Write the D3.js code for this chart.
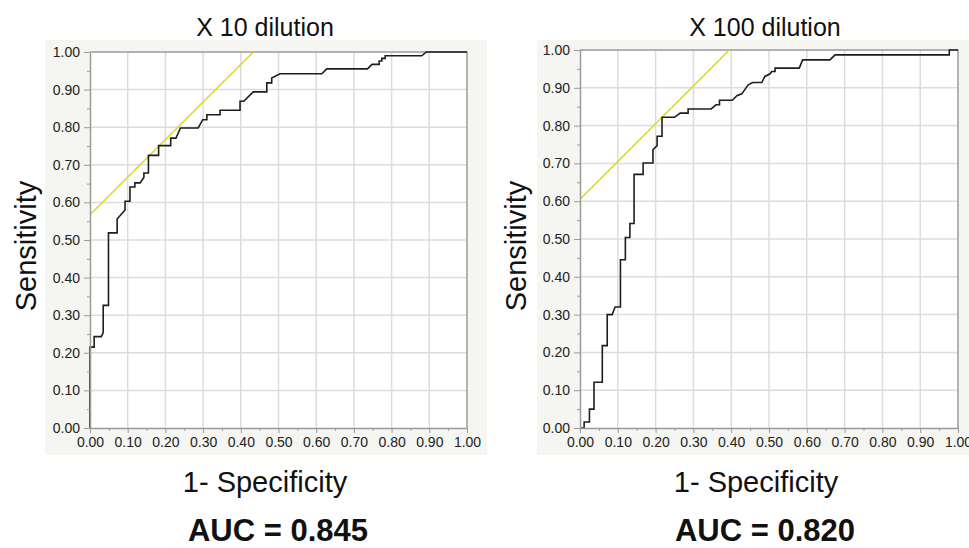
<!doctype html>
<html>
<head>
<meta charset="utf-8">
<script src="https://d3js.org/d3.v7.min.js"></script>
<style>
  body { margin: 0; background: #fff; }
  svg { font-family: "Liberation Sans", Arial, Helvetica, sans-serif; }
  .grid line { stroke: #dcdcdc; stroke-width: 1.5; }
  .axis path, .axis line { stroke: #9a9a9a; }
  .axis text { fill: #222; font-size: 14px; }
  .roc { fill: none; stroke: #1e1e1e; stroke-width: 1.6; }
  .tangent { fill: none; stroke: #ddd22a; stroke-width: 1.4; }
</style>
</head>
<body>
<svg id="chart" width="969" height="548"></svg>
<script>
// tick labels
var tickValues = [0, 0.1, 0.2, 0.3, 0.4, 0.5, 0.6, 0.7, 0.8, 0.9, 1.0];
var minorValues = [0.05, 0.15, 0.25, 0.35, 0.45, 0.55, 0.65, 0.75, 0.85, 0.95];

var titles = ["X 10 dilution", "X 100 dilution"];
var aucLabels = ["AUC = 0.845", "AUC = 0.820"];

// X 10 dilution ROC (1-specificity, sensitivity)
var fpr10 = [0, 0, 0.011, 0.011, 0.030, 0.035, 0.035, 0.049, 0.049, 0.072, 0.072, 0.093, 0.093, 0.106, 0.106,
  0.119, 0.119, 0.133, 0.143, 0.143, 0.155, 0.155, 0.182, 0.182, 0.214, 0.214, 0.228, 0.240, 0.287, 0.299,
  0.310, 0.310, 0.345, 0.345, 0.398, 0.398, 0.408, 0.433, 0.469, 0.469, 0.482, 0.482, 0.504, 0.615, 0.628,
  0.736, 0.748, 0.767, 0.767, 0.774, 0.774, 0.783, 0.783, 0.880, 0.892, 1.0];
var tpr10 = [0, 0.215, 0.215, 0.243, 0.243, 0.254, 0.326, 0.326, 0.519, 0.519, 0.556, 0.580, 0.603, 0.603, 0.641,
  0.641, 0.652, 0.652, 0.667, 0.678, 0.678, 0.725, 0.725, 0.751, 0.751, 0.771, 0.771, 0.798, 0.798, 0.820,
  0.820, 0.833, 0.833, 0.845, 0.845, 0.869, 0.869, 0.894, 0.894, 0.918, 0.918, 0.931, 0.942, 0.942, 0.955,
  0.955, 0.967, 0.967, 0.976, 0.976, 0.983, 0.983, 0.990, 0.990, 1.0, 1.0];

// X 100 dilution ROC
var fpr100 = [0, 0.011, 0.011, 0.025, 0.025, 0.037, 0.037, 0.059, 0.059, 0.072, 0.072, 0.085, 0.093, 0.107, 0.107,
  0.120, 0.120, 0.132, 0.132, 0.143, 0.143, 0.167, 0.167, 0.193, 0.193, 0.204, 0.204, 0.217, 0.217, 0.250,
  0.265, 0.286, 0.286, 0.347, 0.360, 0.369, 0.369, 0.403, 0.415, 0.428, 0.445, 0.457, 0.481, 0.489, 0.503,
  0.507, 0.516, 0.516, 0.580, 0.589, 0.661, 0.675, 0.977, 0.977, 1.0];
var tpr100 = [0, 0, 0.016, 0.016, 0.050, 0.050, 0.121, 0.121, 0.218, 0.218, 0.300, 0.300, 0.320, 0.320, 0.445,
  0.445, 0.504, 0.504, 0.541, 0.541, 0.671, 0.671, 0.701, 0.701, 0.736, 0.747, 0.772, 0.772, 0.822, 0.822,
  0.833, 0.833, 0.844, 0.844, 0.855, 0.855, 0.867, 0.867, 0.879, 0.884, 0.908, 0.914, 0.914, 0.930, 0.937,
  0.943, 0.943, 0.952, 0.952, 0.974, 0.974, 0.987, 0.987, 1.0, 1.0];

// yellow tangent lines
var tangentFpr10 = [0, 0.433], tangentTpr10 = [0.567, 1.0];
var tangentFpr100 = [0, 0.395], tangentTpr100 = [0.605, 1.0];

var svg = d3.select("#chart");

var panels = [
  {bg: [45, 40, 442, 415], x: [90, 467], y: [428, 52], title: 265, xlab: 265, auc: 278, ylab: 36,
   fpr: fpr10, tpr: tpr10, tf: tangentFpr10, tt: tangentTpr10, i: 0},
  {bg: [537, 40, 432, 415], x: [580, 958], y: [428, 50], title: 765, xlab: 756, auc: 765, ylab: 526,
   fpr: fpr100, tpr: tpr100, tf: tangentFpr100, tt: tangentTpr100, i: 1}
];

panels.forEach(function(p) {
  var g = svg.append("g");
  var x = d3.scaleLinear().domain([0, 1]).range(p.x);
  var y = d3.scaleLinear().domain([0, 1]).range(p.y);

  g.append("rect").attr("x", p.bg[0]).attr("y", p.bg[1]).attr("width", p.bg[2]).attr("height", p.bg[3])
    .attr("fill", "#f5f5f1");
  g.append("rect").attr("x", p.x[0]).attr("y", p.y[1]).attr("width", p.x[1] - p.x[0]).attr("height", p.y[0] - p.y[1])
    .attr("fill", "#fff");

  var grid = g.append("g").attr("class", "grid");
  grid.selectAll(".gx").data(tickValues.slice(1, 10)).enter().append("line")
    .attr("x1", x).attr("x2", x).attr("y1", p.y[0]).attr("y2", p.y[1]);
  grid.selectAll(".gy").data(tickValues.slice(1, 10)).enter().append("line")
    .attr("y1", y).attr("y2", y).attr("x1", p.x[0]).attr("x2", p.x[1]);

  // frame top/right
  g.append("path").attr("d", "M" + p.x[0] + "," + p.y[1] + "H" + p.x[1] + "V" + p.y[0])
    .attr("fill", "none").attr("stroke", "#9a9a9a").attr("stroke-width", 1.5);

  var clipId = "clip" + p.i;
  g.append("clipPath").attr("id", clipId).append("rect")
    .attr("x", p.x[0]).attr("y", p.y[1] - 1).attr("width", p.x[1] - p.x[0]).attr("height", p.y[0] - p.y[1] + 1);

  var line = d3.line().x(function(d) { return x(d[0]); }).y(function(d) { return y(d[1]); });

  g.append("path").attr("class", "tangent").attr("clip-path", "url(#" + clipId + ")")
    .attr("d", line(d3.zip(p.tf, p.tt)));
  g.append("path").attr("class", "roc").attr("d", line(d3.zip(p.fpr, p.tpr)));

  // axes
  g.append("g").attr("class", "axis").attr("transform", "translate(0," + p.y[0] + ")")
    .call(d3.axisBottom(x).tickValues(minorValues).tickSize(3).tickFormat(""))
    .call(function(s) { s.select(".domain").remove(); });
  g.append("g").attr("class", "axis").attr("transform", "translate(0," + p.y[0] + ")")
    .call(d3.axisBottom(x).tickValues(tickValues).tickSize(5).tickSizeOuter(0).tickPadding(4).tickFormat(d3.format(".2f")))
    .call(function(s) { s.select(".domain").attr("stroke-width", 1.5); });
  g.append("g").attr("class", "axis").attr("transform", "translate(" + p.x[0] + ",0)")
    .call(d3.axisLeft(y).tickValues(minorValues).tickSize(3).tickFormat(""))
    .call(function(s) { s.select(".domain").remove(); });
  g.append("g").attr("class", "axis").attr("transform", "translate(" + p.x[0] + ",0)")
    .call(d3.axisLeft(y).tickValues(tickValues).tickSize(6).tickSizeOuter(0).tickPadding(4).tickFormat(d3.format(".2f")))
    .call(function(s) { s.select(".domain").attr("stroke-width", 1.5); });

  g.append("text").attr("x", p.title).attr("y", 36).attr("text-anchor", "middle")
    .attr("font-size", 25).attr("fill", "#111").text(titles[p.i]);
  g.append("text").attr("x", p.xlab).attr("y", 492).attr("text-anchor", "middle")
    .attr("font-size", 29).attr("fill", "#111").text("1- Specificity");
  g.append("text").attr("transform", "translate(" + p.ylab + ",246) rotate(-90)").attr("text-anchor", "middle")
    .attr("font-size", 29).attr("fill", "#111").text("Sensitivity");
  g.append("text").attr("x", p.auc).attr("y", 541).attr("text-anchor", "middle")
    .attr("font-size", 31).attr("font-weight", "bold").attr("fill", "#111").text(aucLabels[p.i]);
});
</script>
</body>
</html>
